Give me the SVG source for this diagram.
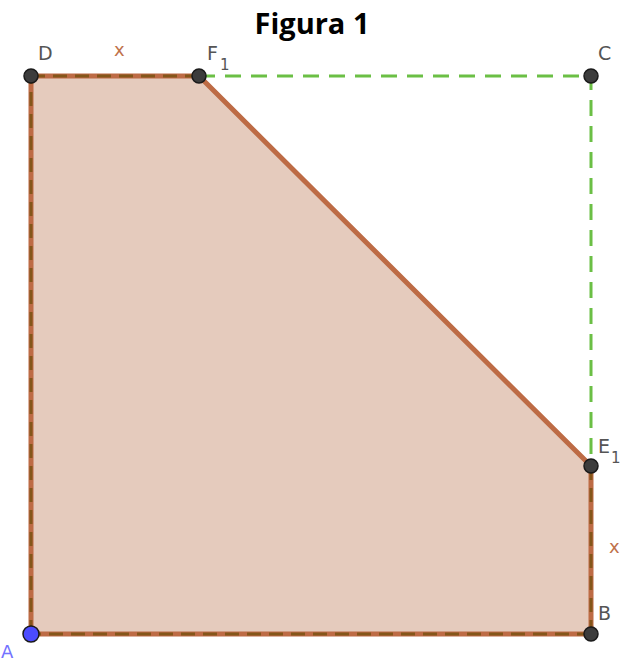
<svg xmlns="http://www.w3.org/2000/svg" width="625" height="661" viewBox="0 0 625 661">
<style>
.edge{stroke:#bd6b45;stroke-width:5;fill:none;stroke-linecap:round}
.dash{stroke:#84561a;stroke-width:3;fill:none;stroke-dasharray:14,8}
.green{stroke:#6bbf45;stroke-width:3;fill:none;stroke-dasharray:16,10}
.pt{fill:#3c3c3c;stroke:#1a1a1a;stroke-width:1.5}
.lbl{font-family:"DejaVu Sans",sans-serif;font-size:19px;fill:#555}
.sub{font-family:"DejaVu Sans",sans-serif;font-size:15px;fill:#555}
.x{font-family:"DejaVu Sans",sans-serif;font-size:18px;fill:#c0714a}
</style>
<rect width="625" height="661" fill="#fff"/>
<text x="312" y="34" text-anchor="middle" font-family="'Open Sans',sans-serif" font-weight="bold" font-size="29" fill="#000">Figura 1</text>
<g id="polygon">
<polygon points="31,76 199,76 591,466 591,634 31,634" fill="#e5cbbd"/>
</g>
<g id="connectors">
<path class="green" d="M199,76 H591 V466"/>
<path class="edge" d="M31,76 H199 L591,466 V634 H31 Z"/>
<path class="dash" d="M31,76 H199"/>
<path class="dash" d="M591,466 V634"/>
<path class="dash" d="M591,634 H31"/>
<path class="dash" d="M31,634 V76"/>
</g>
<g id="D"><circle class="pt" cx="31" cy="76" r="7"/><text class="lbl" x="38" y="60">D</text></g>
<g id="F1"><circle class="pt" cx="199" cy="76" r="7"/><text class="lbl" x="207" y="60">F</text><text class="sub" x="220" y="70">1</text></g>
<g id="C"><circle class="pt" cx="591" cy="76" r="7"/><text class="lbl" x="598" y="60">C</text></g>
<g id="E1"><circle class="pt" cx="591" cy="466" r="7"/><text class="lbl" x="598" y="453">E</text><text class="sub" x="611" y="463">1</text></g>
<g id="B"><circle class="pt" cx="591" cy="634" r="7"/><text class="lbl" x="598" y="620">B</text></g>
<g id="A"><circle cx="31" cy="634" r="8" fill="#4b4bff" stroke="#1a1a1a" stroke-width="1.5"/><text x="1" y="658" font-family="'DejaVu Sans',sans-serif" font-size="18" fill="#7373ff">A</text></g>
<text class="x" x="114" y="56">x</text>
<text class="x" x="609" y="553">x</text>
</svg>
